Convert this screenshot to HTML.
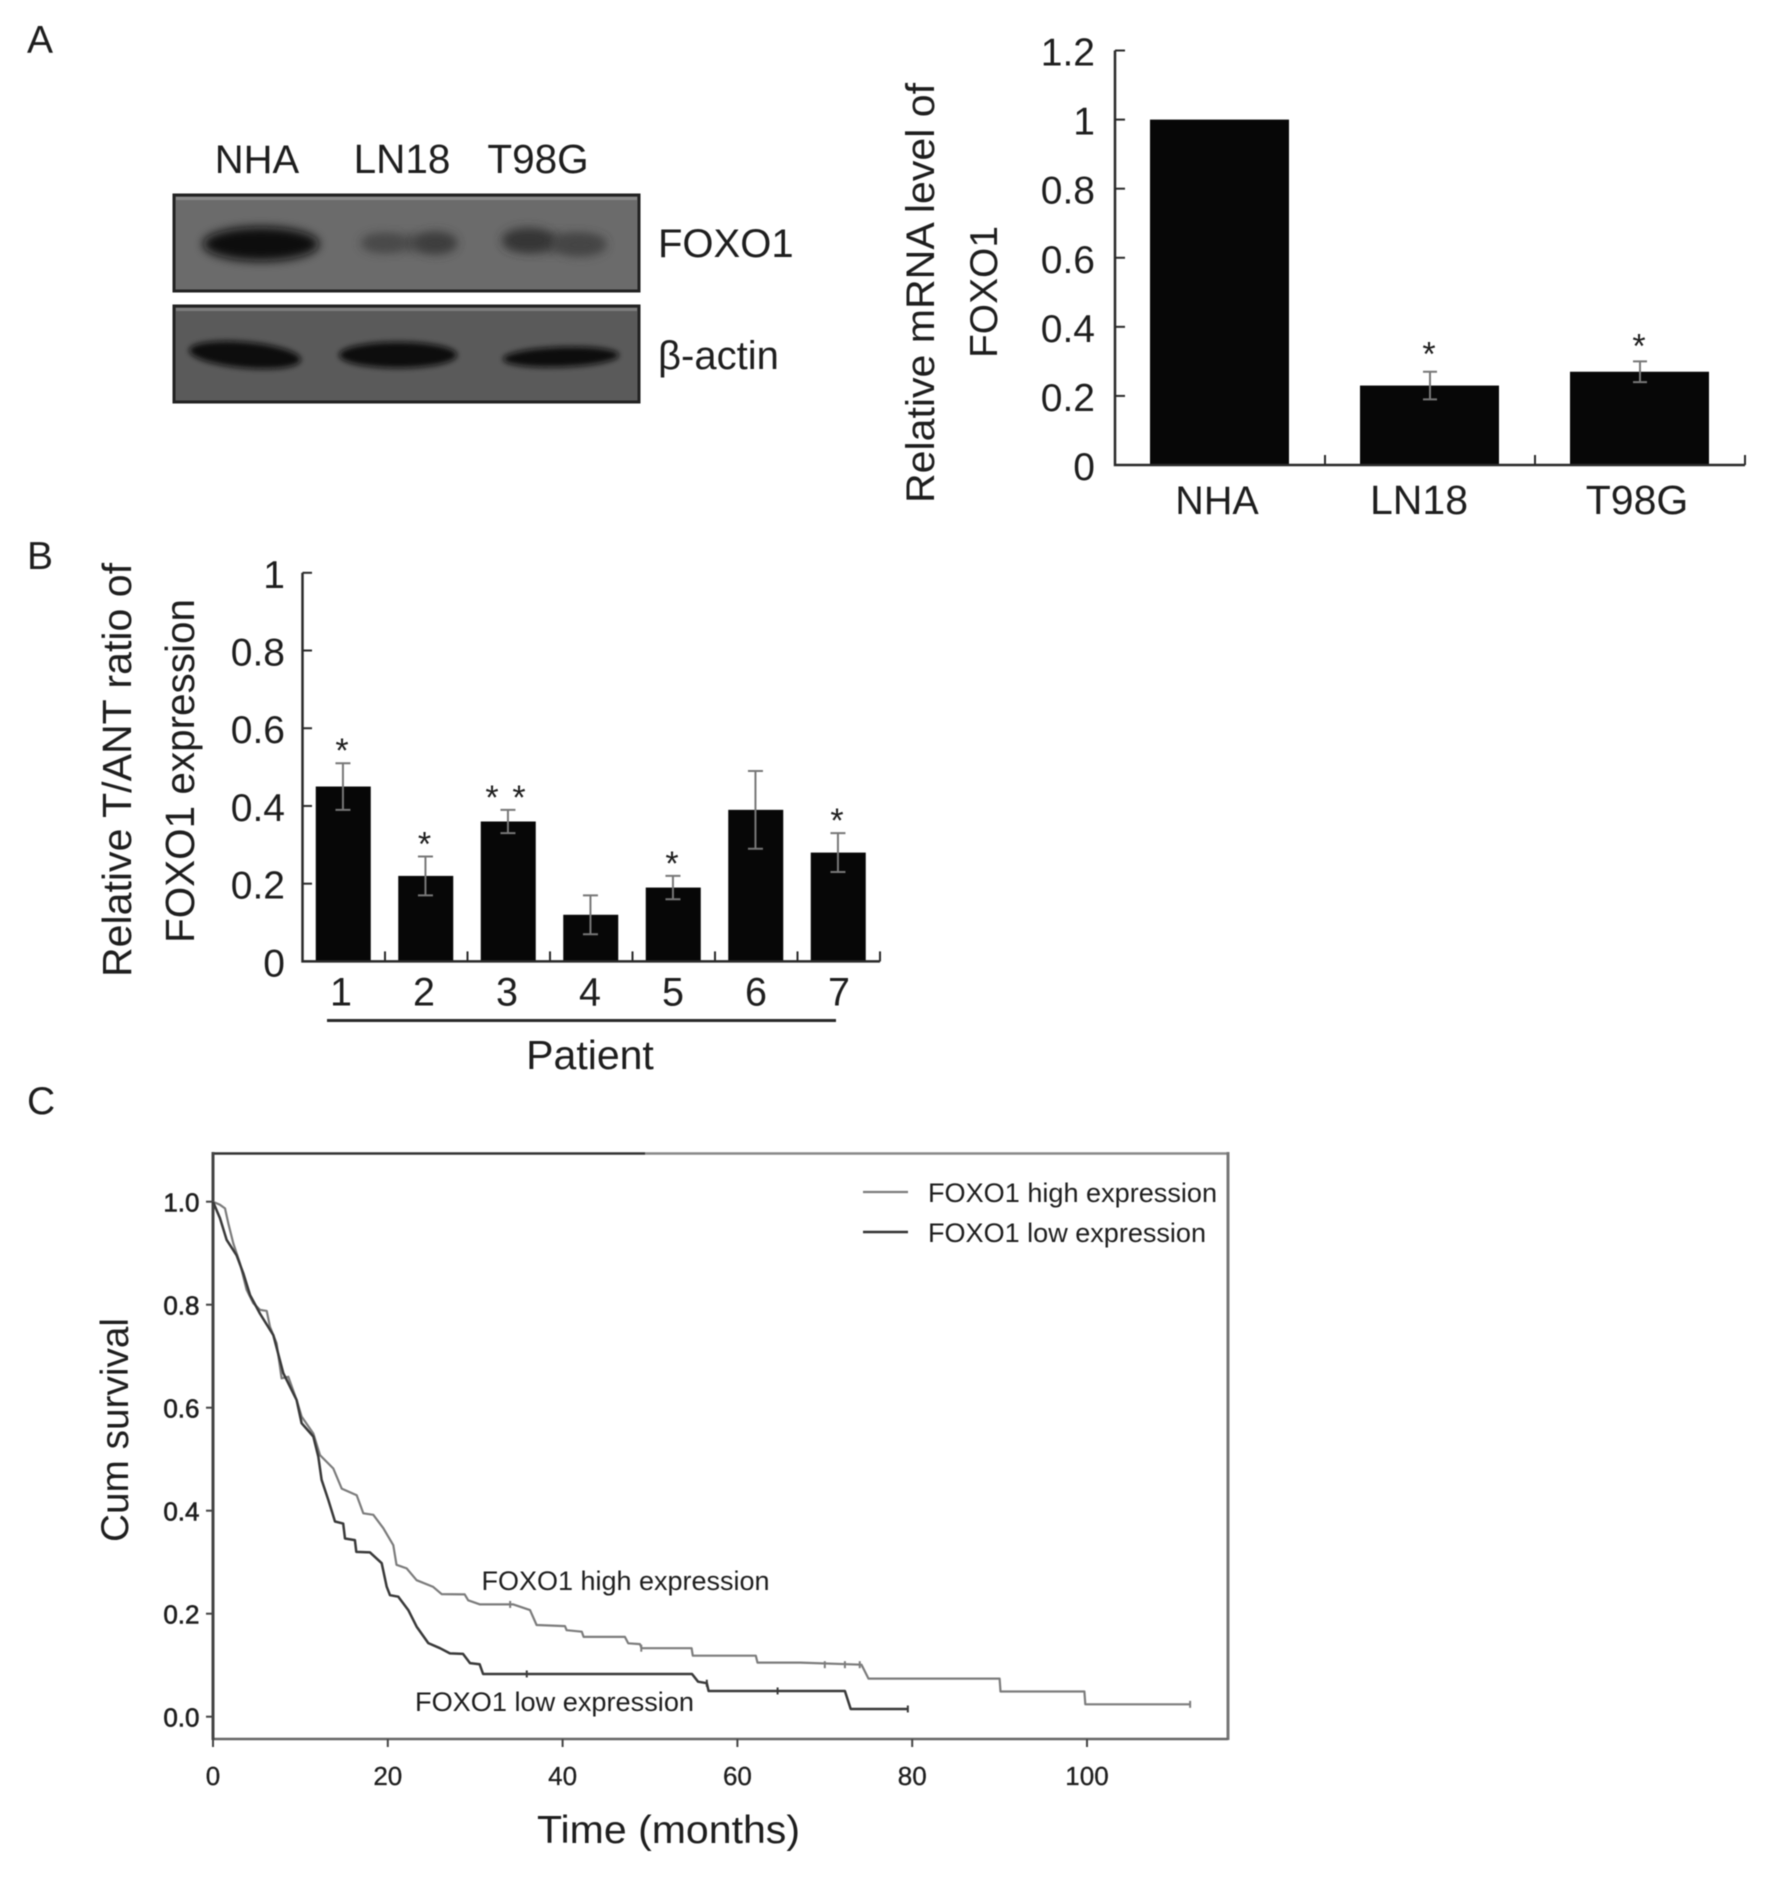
<!DOCTYPE html>
<html lang="en">
<head>
<meta charset="utf-8">
<title>FOXO1 expression figure</title>
<style>
html,body{margin:0;padding:0;background:#fff;}
svg{display:block;filter:blur(0.6px);}
text{font-family:"Liberation Sans",sans-serif;fill:#1e1e1e;}
</style>
</head>
<body>
<svg id="fig" width="1772" height="1884" viewBox="0 0 1772 1884" xmlns="http://www.w3.org/2000/svg">
<defs>
<filter id="b5" x="-30%" y="-60%" width="160%" height="220%"><feGaussianBlur stdDeviation="5"/></filter>
<filter id="b3" x="-30%" y="-60%" width="160%" height="220%"><feGaussianBlur stdDeviation="3"/></filter>
</defs>
<rect width="1772" height="1884" fill="#fff"/>
<text x="27" y="53" font-size="39">A</text>
<text x="27" y="569" font-size="39">B</text>
<text x="27" y="1114" font-size="39">C</text>

<g>
  <text x="257" y="173" font-size="40" text-anchor="middle">NHA</text>
  <text x="402" y="173" font-size="40.5" text-anchor="middle">LN18</text>
  <text x="538" y="173" font-size="40.5" text-anchor="middle">T98G</text>
  <rect x="174" y="195" width="465" height="96" fill="#6b6b6b" stroke="#222" stroke-width="3"/>
  <rect x="176" y="197" width="461" height="3" fill="#8a8a8a"/>
  <g>
    <ellipse cx="261" cy="244" rx="58" ry="17" fill="#0a0a0a" filter="url(#b5)"/>
    <ellipse cx="410" cy="243" rx="46" ry="8" fill="#4c4c4c" filter="url(#b5)"/>
    <ellipse cx="382" cy="243" rx="21" ry="9" fill="#484848" filter="url(#b5)"/>
    <ellipse cx="436" cy="243" rx="21" ry="11" fill="#3e3e3e" filter="url(#b5)"/>
    <ellipse cx="555" cy="243" rx="50" ry="9" fill="#484848" filter="url(#b5)"/>
    <ellipse cx="528" cy="240" rx="26" ry="12" fill="#353535" filter="url(#b5)"/>
    <ellipse cx="581" cy="245" rx="25" ry="11" fill="#454545" filter="url(#b5)"/>
  </g>
  <rect x="174" y="306" width="465" height="96" fill="#5a5a5a" stroke="#222" stroke-width="3"/>
  <rect x="176" y="308" width="461" height="3" fill="#7d7d7d"/>
  <g>
    <ellipse cx="245" cy="355" rx="56" ry="13" fill="#0d0d0d" filter="url(#b3)" transform="rotate(5 245 355)"/>
    <ellipse cx="398" cy="355" rx="59" ry="13" fill="#0d0d0d" filter="url(#b3)"/>
    <ellipse cx="561" cy="357" rx="58" ry="10" fill="#111" filter="url(#b3)" transform="rotate(-2 561 357)"/>
  </g>
  <text x="658" y="257" font-size="40">FOXO1</text>
  <text x="658" y="369" font-size="40" style="font-family:'Liberation Sans','DejaVu Sans',sans-serif">β-actin</text>
</g>

<g id="chartA"></g>
<g id="chartB"></g>
<g id="chartC"></g>
</svg>

<script>
/* Panel A data */
var categoriesA = ["NHA", "LN18", "T98G"];
var valuesA = [1, 0.23, 0.27];
var errorsA = [0, 0.04, 0.03];
var starsA = [0, 1, 1];
var ticksA = [0, 0.2, 0.4, 0.6, 0.8, 1, 1.2];

/* Panel B data */
var categoriesB = ["1", "2", "3", "4", "5", "6", "7"];
var valuesB = [0.45, 0.22, 0.36, 0.12, 0.19, 0.39, 0.28];
var errorsB = [0.06, 0.05, 0.03, 0.05, 0.03, 0.10, 0.05];
var starsB = [1, 1, 2, 0, 1, 0, 1];
var ticksB = [0, 0.2, 0.4, 0.6, 0.8, 1];

/* Panel C data */
var ticksCx = [0, 20, 40, 60, 80, 100];
var ticksCy = [0, 0.2, 0.4, 0.6, 0.8, 1];
var highTime = [0, 0.8, 1.37, 1.75, 2.32, 3.09, 3.85, 4.61, 5.37, 6.14, 6.52, 7.28, 7.85, 8.62, 9.57, 10.14, 11.48, 12.24, 13.77, 14.72, 16.44, 17.2, 18.34, 19.49, 20.63, 21, 22.16, 23.3, 25.2, 26.16, 28.8, 29.2, 30.55, 34.36, 36.27, 37.03, 40.27, 40.46, 42.2, 42.4, 47.13, 47.5, 48.85, 49.04, 54.76, 54.9, 62.1, 62.3, 67.2, 74.2, 75, 90, 90.1, 99.7, 99.8, 111.8];
var highSurv = [1, 0.994, 0.987, 0.958, 0.919, 0.88, 0.829, 0.803, 0.79, 0.788, 0.757, 0.725, 0.657, 0.66, 0.615, 0.583, 0.55, 0.508, 0.482, 0.443, 0.43, 0.395, 0.392, 0.366, 0.333, 0.295, 0.288, 0.265, 0.252, 0.238, 0.2375, 0.226, 0.218, 0.218, 0.207, 0.178, 0.176, 0.168, 0.165, 0.155, 0.155, 0.1425, 0.141, 0.133, 0.133, 0.1185, 0.1185, 0.105, 0.105, 0.101, 0.074, 0.074, 0.049, 0.049, 0.024, 0.024];
var lowTime = [0, 0.8, 1.56, 2.7, 3.47, 4.23, 5.37, 6.9, 8.04, 9.57, 10.14, 11.48, 12.05, 12.43, 13.19, 13.96, 14.9, 15.1, 16.24, 16.4, 17.96, 19.3, 19.87, 20.25, 21.2, 22.35, 23.3, 24.63, 25.97, 27.1, 28.6, 29.4, 30.5, 30.9, 54.8, 55.5, 56.5, 56.7, 72.3, 72.96, 79.5];
var lowSurv = [1, 0.968, 0.926, 0.896, 0.861, 0.819, 0.783, 0.741, 0.667, 0.615, 0.57, 0.544, 0.505, 0.46, 0.421, 0.379, 0.375, 0.346, 0.343, 0.32, 0.319, 0.298, 0.2525, 0.236, 0.233, 0.207, 0.175, 0.143, 0.133, 0.123, 0.122, 0.104, 0.102, 0.083, 0.083, 0.068, 0.065, 0.05, 0.05, 0.015, 0.015];
var highCensorTime = [34, 49, 70, 72.3, 74, 111.8];
var highCensorSurv = [0.218, 0.133, 0.101, 0.101, 0.101, 0.024];
var lowCensorTime = [35.9, 56.5, 64.6, 79.5];
var lowCensorSurv = [0.083, 0.065, 0.05, 0.015];

var NS = "http://www.w3.org/2000/svg";
function mk(parent, tag, attrs, txt) {
  var e = document.createElementNS(NS, tag);
  for (var k in attrs) e.setAttribute(k, attrs[k]);
  if (txt !== undefined) e.textContent = txt;
  parent.appendChild(e);
  return e;
}
function fmt(v) { return String(v); }

/* axis functions */
function yA(v) { return 465 - 345.4 * v; }
function xA(i) { return 1115 + 210 * (i + 0.5); }
function labelXA(i) { return xA(i) - (i === 1 ? 11 : 3); }
function yB(v) { return 961.4 - 388.6 * v; }
function xB(i) { return 302.5 + 82.5 * (i + 0.5); }
function xC(t) { return 213 + 8.74 * t; }
function yC(s) { return 1716.7 - 515 * s; }

var gA = document.getElementById("chartA");
var gB = document.getElementById("chartB");
var gC = document.getElementById("chartC");
var AX = "#2a2a2a", ERR = "#777", el;

/* ---------- Panel A ---------- */
categoriesA.forEach(function (c, i) {
  el = mk(gA, "rect", {x: xA(i) - 70, y: yA(valuesA[i]), width: 139, height: yA(0) - yA(valuesA[i]), fill: "#070707"});
  
  
  if (errorsA[i] > 0) {
    var top = yA(valuesA[i] + errorsA[i]), bot = yA(valuesA[i] - errorsA[i]), x = xA(i);
    el = mk(gA, "path", {d: "M" + x + " " + top + "V" + bot + "M" + (x - 7) + " " + top + "H" + (x + 7) + "M" + (x - 7) + " " + bot + "H" + (x + 7), stroke: ERR, "stroke-width": 2, fill: "none"});
    
    
  }
  if (starsA[i] > 0) {
    el = mk(gA, "text", {x: xA(i) - 1, y: yA(valuesA[i] + errorsA[i]) - 4 - (i === 1 ? 2 : 0), "font-size": 34, "text-anchor": "middle"}, "*");
    
    
  }
  el = mk(gA, "text", {x: labelXA(i), y: 514, "font-size": i === 0 ? 39.5 : 41, "text-anchor": "middle"}, c);
  
  
  el = mk(gA, "line", {x1: 1115 + 210 * (i + 1), x2: 1115 + 210 * (i + 1), y1: yA(0), y2: yA(0) - 10, stroke: AX, "stroke-width": 2});
  
  
});
el = mk(gA, "path", {d: "M1115 " + yA(1.2) + "V" + yA(0) + "H1745", stroke: AX, "stroke-width": 2.5, fill: "none"});


ticksA.forEach(function (v) {
  el = mk(gA, "line", {x1: 1115, x2: 1125, y1: yA(v), y2: yA(v), stroke: AX, "stroke-width": 2});
  
  
  el = mk(gA, "text", {x: 1095, y: yA(v) + 15, "font-size": 39, "text-anchor": "end"}, fmt(v));
  
  
});
el = mk(gA, "text", {transform: "translate(934 293) rotate(-90)", "font-size": 40, "text-anchor": "middle", textLength: 420, lengthAdjust: "spacingAndGlyphs"}, "Relative mRNA level of");


el = mk(gA, "text", {transform: "translate(997 292) rotate(-90)", "font-size": 39, "text-anchor": "middle", textLength: 132, lengthAdjust: "spacingAndGlyphs"}, "FOXO1");



/* ---------- Panel B ---------- */
categoriesB.forEach(function (c, i) {
  el = mk(gB, "rect", {x: xB(i) - 28, y: yB(valuesB[i]), width: 55, height: yB(0) - yB(valuesB[i]), fill: "#070707"});
  
  
  var top = yB(valuesB[i] + errorsB[i]), bot = yB(valuesB[i] - errorsB[i]), x = xB(i) - 0.8;
  el = mk(gB, "path", {d: "M" + x + " " + top + "V" + bot + "M" + (x - 7.5) + " " + top + "H" + (x + 7.5) + "M" + (x - 7.5) + " " + bot + "H" + (x + 7.5), stroke: ERR, "stroke-width": 2, fill: "none"});
  
  
  for (var s = 0; s < starsB[i]; s++) {
    var sx = starsB[i] > 1 ? x - 16 + s * 27 : x - 1;
    el = mk(gB, "text", {x: sx, y: top - 1, "font-size": 34, "text-anchor": "middle"}, "*");
    
    
  }
  el = mk(gB, "text", {x: 341 + 83 * i, y: 1005.5, "font-size": 39.5, "text-anchor": "middle"}, c);
  
  
  el = mk(gB, "line", {x1: 302.5 + 82.5 * (i + 1), x2: 302.5 + 82.5 * (i + 1), y1: yB(0), y2: yB(0) - 10, stroke: AX, "stroke-width": 2});
  
  
});
el = mk(gB, "path", {d: "M302.5 " + yB(1) + "V" + yB(0) + "H880", stroke: AX, "stroke-width": 2.5, fill: "none"});


ticksB.forEach(function (v) {
  el = mk(gB, "line", {x1: 302.5, x2: 312, y1: yB(v), y2: yB(v), stroke: AX, "stroke-width": 2});
  
  
  el = mk(gB, "text", {x: 285, y: yB(v) + 15, "font-size": 39, "text-anchor": "end"}, fmt(v));
  
  
});
el = mk(gB, "line", {x1: 327, x2: 836, y1: 1020.5, y2: 1020.5, stroke: "#2a2a2a", "stroke-width": 3});


el = mk(gB, "text", {x: 590, y: 1069, "font-size": 41, "text-anchor": "middle"}, "Patient");


el = mk(gB, "text", {transform: "translate(131 770) rotate(-90)", "font-size": 41, "text-anchor": "middle", textLength: 414, lengthAdjust: "spacingAndGlyphs"}, "Relative T/ANT ratio of");


el = mk(gB, "text", {transform: "translate(194 771) rotate(-90)", "font-size": 41, "text-anchor": "middle", textLength: 344, lengthAdjust: "spacingAndGlyphs"}, "FOXO1 expression");



/* ---------- Panel C ---------- */
el = mk(gC, "line", {x1: 645, x2: 1228, y1: 1153.5, y2: 1153.5, stroke: "#888", "stroke-width": 2.5});


el = mk(gC, "line", {x1: 212, x2: 645, y1: 1153.5, y2: 1153.5, stroke: "#333", "stroke-width": 2.5});


el = mk(gC, "line", {x1: 1228, x2: 1228, y1: 1152, y2: 1740, stroke: "#777", "stroke-width": 3});


el = mk(gC, "line", {x1: 212, x2: 1228, y1: 1739, y2: 1739, stroke: "#666", "stroke-width": 2.5});


el = mk(gC, "line", {x1: 213, x2: 213, y1: 1152, y2: 1740, stroke: "#444", "stroke-width": 3});



ticksCx.forEach(function (v) {
  el = mk(gC, "line", {x1: xC(v), x2: xC(v), y1: 1739, y2: 1747, stroke: "#444", "stroke-width": 2});
  
  
  el = mk(gC, "text", {x: xC(v), y: 1785, "font-size": 26, "text-anchor": "middle", stroke: "#222", "stroke-width": 0.3}, String(v));
  
  
});
ticksCy.forEach(function (v) {
  el = mk(gC, "line", {x1: 206, x2: 213, y1: yC(v), y2: yC(v), stroke: "#444", "stroke-width": 2});
  
  
  el = mk(gC, "text", {x: 199.5, y: yC(v) + 10, "font-size": 26, "text-anchor": "end", stroke: "#222", "stroke-width": 0.6}, v.toFixed(1));
  
  
});

function curve(times, surv) {
  return times.map(function (t, i) { return (i ? "L" : "M") + xC(t).toFixed(1) + " " + yC(surv[i]).toFixed(1); }).join("");
}
el = mk(gC, "path", {d: curve(highTime, highSurv), fill: "none", stroke: "#7c7c7c", "stroke-width": 2.2, "stroke-linejoin": "round"});


el = mk(gC, "path", {d: curve(lowTime, lowSurv), fill: "none", stroke: "#3a3a3a", "stroke-width": 2.5, "stroke-linejoin": "round"});


highCensorTime.forEach(function (t, i) {
  el = mk(gC, "line", {x1: xC(t), x2: xC(t), y1: yC(highCensorSurv[i]) - 3.5, y2: yC(highCensorSurv[i]) + 3.5, stroke: "#7c7c7c", "stroke-width": 2});
  
  
});
lowCensorTime.forEach(function (t, i) {
  el = mk(gC, "line", {x1: xC(t), x2: xC(t), y1: yC(lowCensorSurv[i]) - 3.5, y2: yC(lowCensorSurv[i]) + 3.5, stroke: "#3a3a3a", "stroke-width": 2});
  
  
});

el = mk(gC, "text", {x: 481.5, y: 1590, "font-size": 27, textLength: 288, lengthAdjust: "spacingAndGlyphs"}, "FOXO1 high expression");


el = mk(gC, "text", {x: 415, y: 1711, "font-size": 27, textLength: 279, lengthAdjust: "spacingAndGlyphs"}, "FOXO1 low expression");



el = mk(gC, "line", {x1: 863, x2: 908, y1: 1192, y2: 1192, stroke: "#7c7c7c", "stroke-width": 2.2});


el = mk(gC, "text", {x: 928, y: 1202, "font-size": 27, textLength: 289, lengthAdjust: "spacingAndGlyphs"}, "FOXO1 high expression");


el = mk(gC, "line", {x1: 863, x2: 908, y1: 1232, y2: 1232, stroke: "#333", "stroke-width": 2.5});


el = mk(gC, "text", {x: 928, y: 1242, "font-size": 27, textLength: 278, lengthAdjust: "spacingAndGlyphs"}, "FOXO1 low expression");



el = mk(gC, "text", {transform: "translate(128 1430) rotate(-90)", "font-size": 38.5, "text-anchor": "middle", textLength: 224, lengthAdjust: "spacingAndGlyphs"}, "Cum survival");


el = mk(gC, "text", {x: 537, y: 1843, "font-size": 39, textLength: 263, lengthAdjust: "spacingAndGlyphs"}, "Time (months)");


</script>
</body>
</html>
